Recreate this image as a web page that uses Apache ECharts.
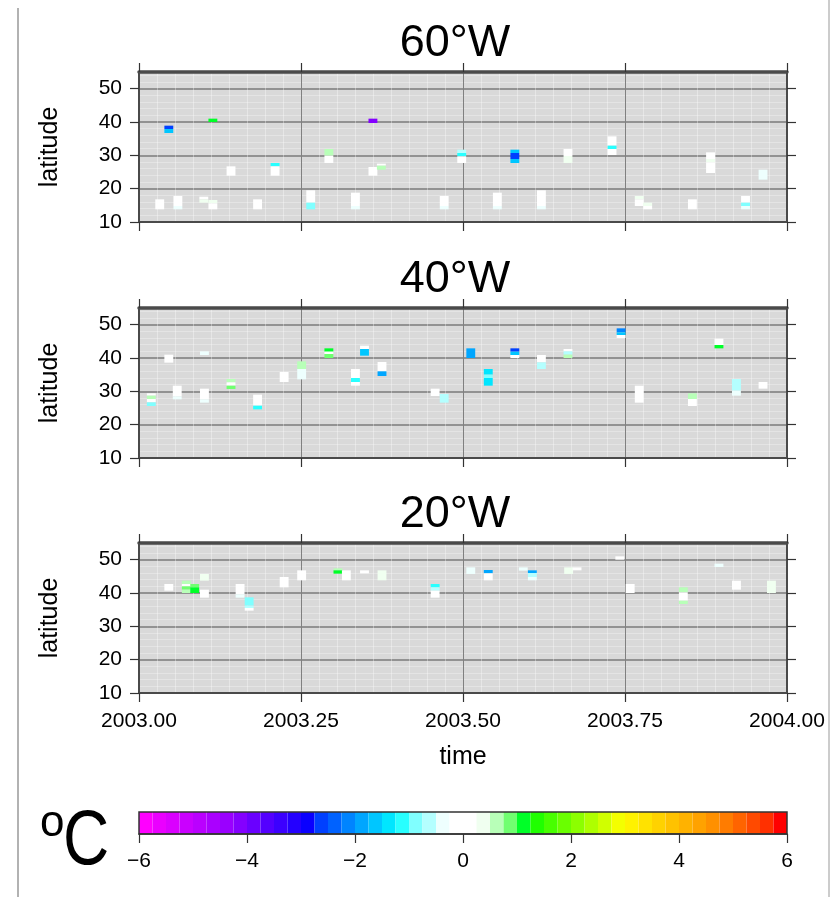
<!DOCTYPE html>
<html>
<head>
<meta charset="utf-8">
<script src="https://cdn.jsdelivr.net/npm/echarts@6/dist/echarts.min.js"></script>
<style>
html,body{margin:0;padding:0;background:#fff;}
#main{width:834px;height:897px;}
</style>
</head>
<body>
<div id="main"></div>
<script>
// ---- data: [time (decimal year, cell centre), lat bottom, lat top, temperature anomaly °C]
const cells60W = [
 [2003.032, 13.8, 16.8, 0],
 [2003.046, 37.9, 38.9, -2.6],
 [2003.046, 36.7, 37.9, -1.6],
 [2003.060, 14.8, 17.8, 0],
 [2003.060, 13.8, 14.8, -0.4],
 [2003.100, 16.8, 17.6, 0],
 [2003.100, 15.8, 16.8, 0.4],
 [2003.114, 15.6, 16.6, 0.4],
 [2003.114, 13.8, 15.6, 0],
 [2003.114, 40.0, 41.0, 1.1],
 [2003.142, 23.9, 26.7, 0],
 [2003.183, 13.8, 16.8, 0],
 [2003.210, 26.7, 27.7, -1.1],
 [2003.210, 23.9, 26.7, 0],
 [2003.265, 15.8, 19.5, 0],
 [2003.265, 13.8, 15.8, -0.9],
 [2003.293, 29.9, 31.9, 0.6],
 [2003.293, 27.7, 29.9, 0],
 [2003.334, 14.8, 18.8, 0],
 [2003.334, 13.8, 14.8, -0.4],
 [2003.361, 39.7, 41.0, -4.1],
 [2003.361, 23.9, 26.5, 0],
 [2003.374, 26.9, 27.5, 0],
 [2003.374, 25.7, 26.9, 0.6],
 [2003.471, 14.8, 17.8, 0],
 [2003.471, 13.8, 14.8, -0.4],
 [2003.498, 30.7, 31.7, -0.6],
 [2003.498, 29.7, 30.7, -1.1],
 [2003.498, 27.7, 29.7, 0],
 [2003.553, 14.8, 18.8, 0],
 [2003.553, 13.8, 14.8, -0.4],
 [2003.580, 30.7, 31.7, -1.6],
 [2003.580, 28.9, 30.7, -2.6],
 [2003.580, 27.7, 28.9, -1.6],
 [2003.621, 14.8, 19.5, 0],
 [2003.621, 13.8, 14.8, -0.4],
 [2003.662, 29.8, 31.9, 0],
 [2003.662, 27.7, 29.8, 0.4],
 [2003.730, 32.9, 35.7, 0],
 [2003.730, 31.9, 32.9, -1.1],
 [2003.730, 30.1, 31.9, 0],
 [2003.772, 16.8, 17.8, 0.4],
 [2003.772, 14.8, 16.8, 0],
 [2003.785, 14.8, 15.8, 0.4],
 [2003.785, 13.8, 14.8, 0],
 [2003.854, 13.8, 16.8, 0],
 [2003.882, 28.9, 30.9, 0],
 [2003.882, 27.9, 28.9, 0.4],
 [2003.882, 24.7, 27.9, 0],
 [2003.936, 15.8, 17.8, 0],
 [2003.936, 14.8, 15.8, -0.9],
 [2003.936, 13.8, 14.8, -0.4],
 [2003.963, 22.7, 25.7, -0.4]
];
const cells40W = [
 [2003.019, 28.7, 29.4, 0],
 [2003.019, 27.7, 28.7, 0.6],
 [2003.019, 26.7, 27.7, 0],
 [2003.019, 25.6, 26.7, -0.9],
 [2003.046, 38.6, 41.0, 0],
 [2003.059, 28.5, 31.7, 0],
 [2003.059, 27.6, 28.5, -0.4],
 [2003.101, 40.9, 42.0, -0.4],
 [2003.101, 27.6, 30.8, 0],
 [2003.101, 26.6, 27.6, -0.4],
 [2003.142, 32.7, 33.7, 0.6],
 [2003.142, 31.7, 32.7, 0],
 [2003.142, 30.7, 31.7, 0.9],
 [2003.183, 25.7, 29.0, 0],
 [2003.183, 24.6, 25.7, -1.1],
 [2003.224, 32.8, 35.8, 0],
 [2003.251, 36.7, 39.0, 0.6],
 [2003.251, 33.6, 36.7, -0.4],
 [2003.293, 41.9, 42.9, 1.2],
 [2003.293, 41.2, 41.9, 0],
 [2003.293, 40.0, 41.2, 0.9],
 [2003.334, 34.0, 36.7, 0],
 [2003.334, 32.8, 34.0, -1.1],
 [2003.334, 31.7, 32.8, 0],
 [2003.348, 42.7, 43.7, 0],
 [2003.348, 40.7, 42.7, -1.6],
 [2003.375, 36.0, 38.8, 0],
 [2003.375, 34.6, 36.0, -1.9],
 [2003.457, 28.6, 30.8, 0],
 [2003.471, 26.6, 29.2, -0.6],
 [2003.512, 40.0, 42.9, -1.9],
 [2003.539, 35.0, 36.7, -1.4],
 [2003.539, 34.0, 35.0, -0.9],
 [2003.539, 31.7, 34.0, -1.4],
 [2003.580, 41.9, 42.9, -2.6],
 [2003.580, 40.9, 41.9, -1.6],
 [2003.580, 40.0, 40.9, 0],
 [2003.621, 38.7, 40.9, 0],
 [2003.621, 36.7, 38.7, -0.6],
 [2003.662, 42.0, 42.7, 0],
 [2003.662, 41.0, 42.0, -0.6],
 [2003.662, 40.0, 41.0, 0.6],
 [2003.744, 47.7, 48.9, -2.1],
 [2003.744, 46.9, 47.7, -1.6],
 [2003.744, 46.0, 46.9, 0],
 [2003.772, 26.6, 31.7, 0],
 [2003.854, 27.7, 29.4, 0.6],
 [2003.854, 25.6, 27.7, 0],
 [2003.895, 43.9, 45.8, 0],
 [2003.895, 42.9, 43.9, 1.1],
 [2003.922, 30.2, 33.7, -0.6],
 [2003.922, 28.7, 30.2, -0.4],
 [2003.963, 30.8, 32.8, 0]
];
const cells20W = [
 [2003.046, 40.7, 42.7, 0],
 [2003.073, 42.7, 43.7, 0.6],
 [2003.073, 42.0, 42.7, 0],
 [2003.073, 41.0, 42.0, 0.9],
 [2003.073, 40.0, 41.0, 0.6],
 [2003.086, 41.7, 42.7, 0.9],
 [2003.086, 40.0, 41.7, 1.1],
 [2003.101, 43.7, 45.7, 0.4],
 [2003.101, 38.6, 41.0, 0],
 [2003.156, 39.6, 42.7, 0],
 [2003.156, 38.6, 39.6, -0.4],
 [2003.170, 36.2, 38.7, -0.9],
 [2003.170, 35.5, 36.2, -0.6],
 [2003.170, 34.7, 35.5, 0],
 [2003.224, 41.7, 44.8, 0],
 [2003.251, 43.8, 46.8, 0],
 [2003.307, 46.8, 47.4, 0.6],
 [2003.307, 45.8, 46.8, 1.1],
 [2003.320, 43.8, 46.8, 0],
 [2003.348, 45.9, 46.8, 0],
 [2003.375, 43.8, 46.8, 0.4],
 [2003.457, 41.7, 42.7, -1.1],
 [2003.457, 40.7, 41.7, -0.6],
 [2003.457, 38.6, 40.7, 0],
 [2003.512, 45.7, 47.7, -0.4],
 [2003.539, 45.9, 46.9, -1.9],
 [2003.539, 43.8, 45.9, 0],
 [2003.593, 46.7, 47.7, -0.4],
 [2003.607, 46.0, 46.8, -1.9],
 [2003.607, 44.8, 46.0, -0.6],
 [2003.607, 43.8, 44.8, -0.4],
 [2003.663, 45.7, 47.7, 0.4],
 [2003.676, 46.8, 47.7, 0],
 [2003.742, 50.0, 51.0, 0],
 [2003.758, 40.0, 42.7, 0],
 [2003.840, 40.2, 41.7, 0.6],
 [2003.840, 37.7, 40.2, 0],
 [2003.840, 36.7, 37.7, 0.6],
 [2003.895, 47.8, 48.8, -0.4],
 [2003.922, 41.0, 43.7, 0],
 [2003.976, 40.0, 43.7, 0.4]
];
const panelTitles = ['60°W', '40°W', '20°W'];
const latTicks = [10, 20, 30, 40, 50];
const colorTicks = [-6, -4, -2, 0, 2, 4, 6];
// colour palette of the scale, one entry per 0.25 °C step from -6 to 6
const paletteColors = [
 '#ff00ff','#ea00ff','#da00ff','#ca00ff','#ba00ff','#aa00ff','#9a00ff','#8400ff',
 '#6a00ff','#5400ff','#3c00ff','#2400ff','#0a00ff','#0040ff','#0062ff','#0084ff',
 '#00a6ff','#00c6ff','#00e6ff','#28ffff','#80ffff','#b4ffff','#eefffe','#ffffff',
 '#ffffff','#f0fff0','#b8ffb8','#70ff70','#00ff28','#20ff00','#48ff00','#6aff00',
 '#8cff00','#aeff00','#d0ff00','#f4ff00','#fff200','#ffe200','#ffd200','#ffc200',
 '#ffb200','#ffa200','#ff9000','#ff7c00','#ff6400','#ff4a00','#ff3000','#ff0000'
];
const scaleMin = -6, scaleMax = 6;
const cellWidth = 5 / 365; // 5-day bins

const FONT = 'Liberation Sans, Arial, Helvetica, sans-serif';
const step = (scaleMax - scaleMin) / paletteColors.length;
const pieces = paletteColors.map((c, i) => {
  const p = { gte: scaleMin + i * step, color: c };
  if (i === paletteColors.length - 1) p.lte = scaleMax; else p.lt = scaleMin + (i + 1) * step;
  return p;
});

const panelTops = [72, 308, 543];
const panelHeight = 150;
const gridLeft = 139, gridWidth = 648;

const grids = [], xAxes = [], yAxes = [], series = [];
const datasets = [cells60W, cells40W, cells20W];

function renderCell(params, api) {
  const t = api.value(0), a = api.value(1), b = api.value(2);
  const p0 = api.coord([t - cellWidth / 2, b]);
  const p1 = api.coord([t + cellWidth / 2, a]);
  return {
    type: 'rect',
    shape: { x: p0[0], y: p0[1], width: p1[0] - p0[0], height: p1[1] - p0[1] },
    style: { fill: api.visual('color') }
  };
}

const tickStyle = { color: '#333', width: 1.2 };
for (let i = 0; i < 3; i++) {
  grids.push({ left: gridLeft, width: gridWidth, top: panelTops[i], height: panelHeight,
    show: true, backgroundColor: '#d9d9d9', borderColor: '#4a4a4a', borderWidth: 2 });
  const last = i === 2;
  xAxes.push({
    gridIndex: i, type: 'value', min: 2003, max: 2004, interval: 0.25, position: 'bottom',
    axisLine: { show: true, onZero: false, lineStyle: { color: '#4a4a4a', width: 2 } },
    axisTick: { show: true, inside: false, length: 9, lineStyle: tickStyle },
    axisLabel: { show: last, fontSize: 21, color: '#000', fontFamily: FONT, margin: 18,
      formatter: v => v.toFixed(2) },
    splitLine: { show: true, lineStyle: { color: '#808080', width: 1 } },
    minorTick: { show: false, splitNumber: 9 },
    minorSplitLine: { show: true, lineStyle: { color: 'rgba(255,255,255,0.35)', width: 1 } },
    name: last ? 'time' : '', nameLocation: 'middle', nameGap: 52,
    nameTextStyle: { fontSize: 25, color: '#000', fontFamily: FONT }
  });
  xAxes.push({
    gridIndex: i, type: 'value', min: 2003, max: 2004, interval: 0.25, position: 'top',
    axisLine: { show: true, onZero: false, lineStyle: { color: '#4a4a4a', width: 3.5 } },
    axisTick: { show: true, inside: false, length: 9, lineStyle: tickStyle },
    axisLabel: { show: false }, splitLine: { show: false }
  });
  yAxes.push({
    gridIndex: i, type: 'value', min: 10, max: 55, interval: 10, position: 'left',
    axisLine: { show: true, onZero: false, lineStyle: { color: '#4a4a4a', width: 2 } },
    axisTick: { show: true, inside: false, length: 9, lineStyle: tickStyle, customValues: latTicks },
    axisLabel: { show: true, fontSize: 21, color: '#000', fontFamily: FONT, margin: 17, customValues: latTicks },
    splitLine: { show: true, lineStyle: { color: '#7a7a7a', width: 1.5 } },
    minorTick: { show: false, splitNumber: 5 },
    minorSplitLine: { show: true, lineStyle: { color: 'rgba(255,255,255,0.3)', width: 1 } },
    name: 'latitude', nameLocation: 'middle', nameGap: 76,
    nameTextStyle: { fontSize: 25, color: '#000', fontFamily: FONT }
  });
  yAxes.push({
    gridIndex: i, type: 'value', min: 10, max: 55, interval: 10, position: 'right',
    axisLine: { show: true, onZero: false, lineStyle: { color: '#4a4a4a', width: 2 } },
    axisTick: { show: true, inside: false, length: 9, lineStyle: tickStyle, customValues: latTicks },
    axisLabel: { show: false }, splitLine: { show: false }
  });
  series.push({
    type: 'custom', name: panelTitles[i], xAxisIndex: i * 2, yAxisIndex: i * 2,
    data: datasets[i], encode: { x: 0, y: [1, 2] }, renderItem: renderCell, clip: true, z: 3
  });
}
// colour-bar axis
grids.push({ left: gridLeft, width: gridWidth, top: 812, height: 22, show: true,
  backgroundColor: 'transparent', borderColor: '#333', borderWidth: 1.5, z: 10 });
xAxes.push({
  gridIndex: 3, type: 'value', min: scaleMin, max: scaleMax, interval: 2, position: 'bottom', z: 10,
  axisLine: { show: true, onZero: false, lineStyle: { color: '#333', width: 1.5 } },
  axisTick: { show: true, inside: false, length: 9, lineStyle: tickStyle, customValues: colorTicks },
  axisLabel: { show: true, fontSize: 21, color: '#000', fontFamily: FONT, margin: 17,
    customValues: colorTicks, formatter: v => (v < 0 ? '\u2212' + (-v) : String(v)) },
  splitLine: { show: false }
});
yAxes.push({ gridIndex: 3, type: 'value', min: 0, max: 1, show: false });

const option = {
  backgroundColor: '#fff',
  animation: false,
  grid: grids,
  xAxis: xAxes,
  yAxis: yAxes,
  visualMap: {
    type: 'piecewise', seriesIndex: [0, 1, 2], dimension: 3,
    pieces: pieces, orient: 'horizontal', left: gridLeft, top: 812, padding: 0,
    itemWidth: gridWidth / paletteColors.length, itemHeight: 22, itemGap: 0,
    itemSymbol: 'rect', showLabel: false, selectedMode: false, hoverLink: false, z: 5
  },
  graphic: [
    { type: 'line', shape: { x1: 18, y1: 8, x2: 18, y2: 897 }, style: { stroke: '#999', lineWidth: 1.5 }, silent: true },
    { type: 'line', shape: { x1: 829, y1: 0, x2: 829, y2: 897 }, style: { stroke: '#bbb', lineWidth: 1.5 }, silent: true },
    ...panelTitles.map((t, i) => ({
      type: 'text', x: 455, y: 43.5 + (panelTops[i] - panelTops[0]),
      style: { text: t, font: '45px ' + FONT, fill: '#000', textAlign: 'center', textVerticalAlign: 'middle' }
    })),
    { type: 'text', x: 40, y: 824, style: { text: 'o', font: '44px ' + FONT, fill: '#000', textAlign: 'left', textVerticalAlign: 'middle' } },
    { type: 'text', x: 63, y: 842, scaleX: 0.82, style: { text: 'C', font: '78px ' + FONT, fill: '#000', textAlign: 'left', textVerticalAlign: 'middle' } }
  ],
  series: series
};

const chart = echarts.init(document.getElementById('main'), null, { renderer: 'canvas' });
chart.setOption(option);
</script>
</body>
</html>
